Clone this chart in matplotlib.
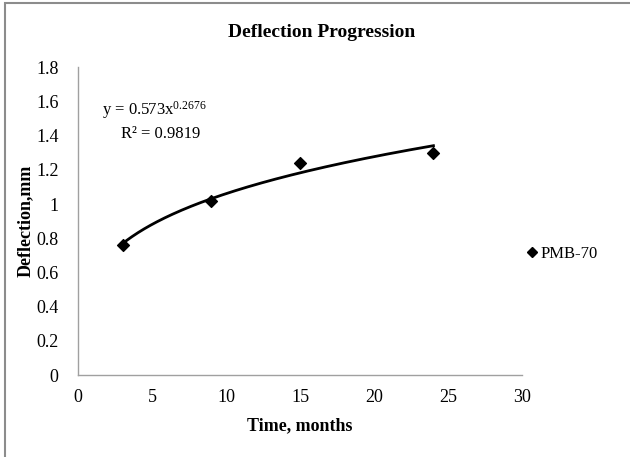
import numpy as np
import matplotlib
matplotlib.use("Agg")
import matplotlib.pyplot as plt
from matplotlib.lines import Line2D
from matplotlib.patches import Rectangle

months = [3, 9, 15, 24]
deflection = [0.76, 1.02, 1.24, 1.30]
series_name = "PMB-70"
coef_a = 0.573
coef_b = 0.2676
r_squared = 0.9819
x_ticks = [0, 5, 10, 15, 20, 25, 30]
y_ticks = [0, 0.2, 0.4, 0.6, 0.8, 1.0, 1.2, 1.4, 1.6, 1.8]
y_tick_labels = ["0", "0.2", "0.4", "0.6", "0.8", "1", "1.2", "1.4", "1.6", "1.8"]

plt.rcParams['font.family'] = ['Liberation Serif', 'DejaVu Serif']
plt.rcParams['mathtext.fontset'] = 'custom'
plt.rcParams['mathtext.rm'] = 'Liberation Serif'
plt.rcParams['mathtext.it'] = 'Liberation Serif:italic'

fig = plt.figure(figsize=(6.30, 4.57), dpi=100)
ax = fig.add_axes([0.124, 0.179, 0.705, 0.674])

# trendline
xt = np.linspace(min(months), max(months), 200)
ax.plot(xt, coef_a * xt ** coef_b, color='black', lw=2.0, zorder=2)
ax.scatter(months, deflection, marker='D', s=36, color='black', zorder=3)

ax.set_xlim(0, 30)
ax.set_ylim(0, 1.8)
ax.set_xticks(x_ticks)
ax.set_yticks(y_ticks)
ax.set_yticklabels(y_tick_labels)
ax.tick_params(length=0, labelsize=13, pad=10)
ax.tick_params(axis='y', pad=14)
for s in ['top', 'right']:
    ax.spines[s].set_visible(False)
for s in ['left', 'bottom']:
    ax.spines[s].set_color('#a0a0a0')
    ax.spines[s].set_linewidth(1.0)

ax.set_xlabel("Time, months", fontsize=13, fontweight='bold', labelpad=8)
ax.set_ylabel("Deflection,mm", fontsize=13, fontweight='bold', labelpad=2)
fig.text(0.51, 0.928, "Deflection Progression", fontsize=14, fontweight='bold', ha='center', va='center')

ax.text(1.6, 1.55, r"y = 0.573x$^{\mathrm{0.2676}}$", fontsize=12, ha='left', va='center')
ax.text(2.9, 1.41, "R² = 0.9819", fontsize=12, ha='left', va='center')

handle = Line2D([], [], marker='D', color='black', linestyle='none', markersize=5.5)
fig.legend([handle], [series_name], loc='center left', bbox_to_anchor=(0.807, 0.445),
           frameon=False, fontsize=12, handletextpad=0.0, handlelength=1.0)

fig.patches.append(Rectangle((0.008, -0.1), 1.2, 1.093, transform=fig.transFigure,
                             fill=False, edgecolor='#8c8c8c', lw=1.5))

fig.savefig("out.png", dpi=100)
